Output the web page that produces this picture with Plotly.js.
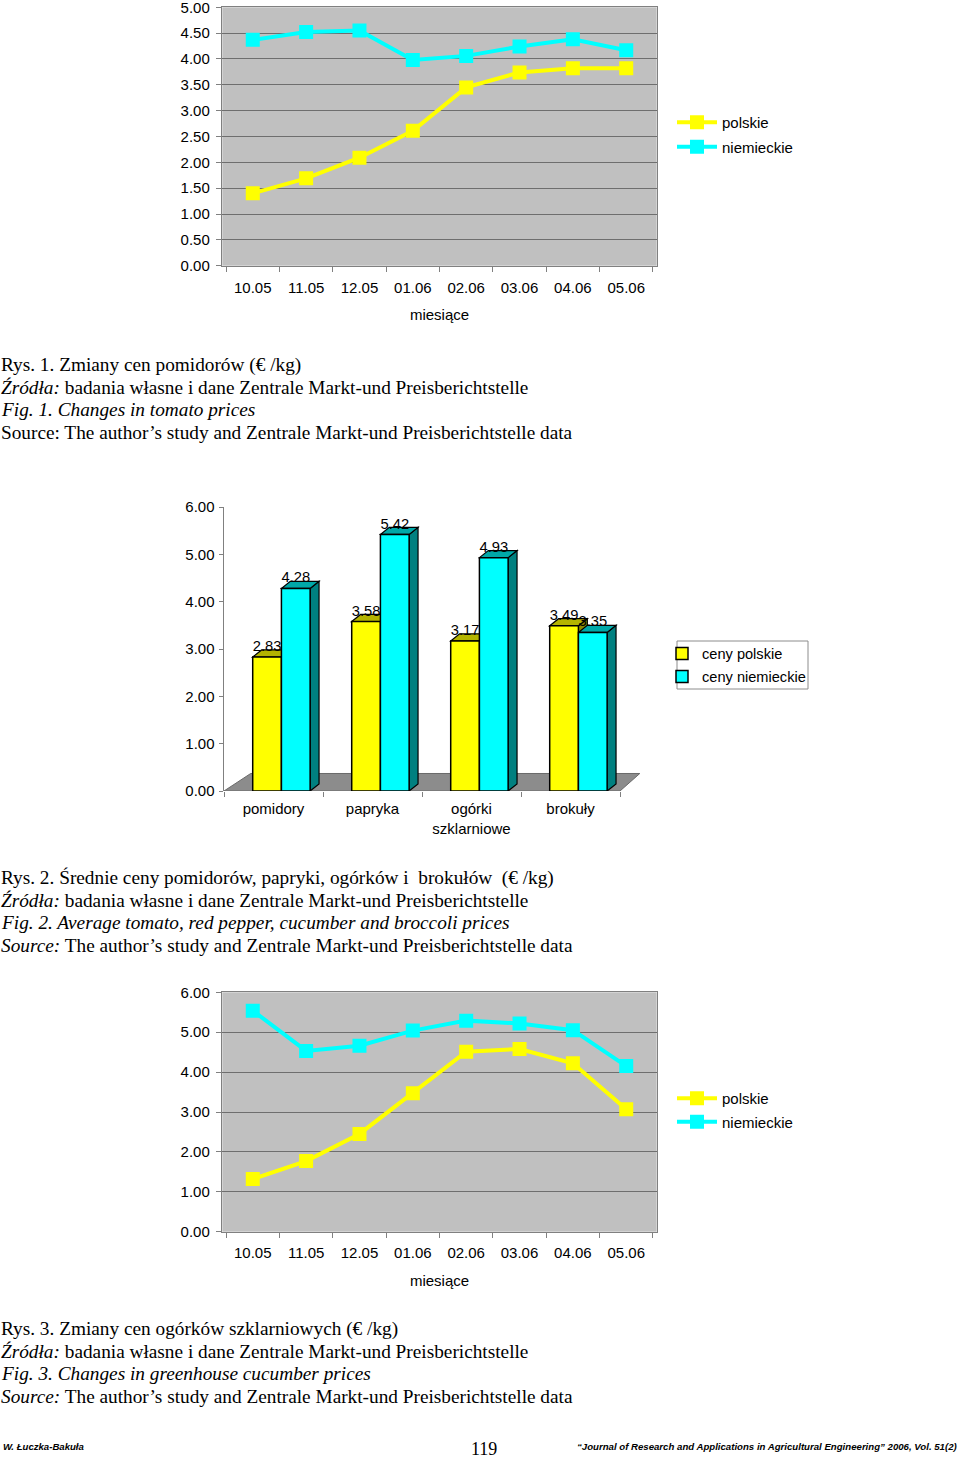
<!DOCTYPE html>
<html>
<head>
<meta charset="utf-8">
<script src="https://cdn.plot.ly/plotly-3.0.1.min.js"></script>
<style>html,body{margin:0;padding:0;background:#fff;}#chart{width:960px;height:1459px;}</style>
</head>
<body>
<div id="chart"></div>
<script>
// ---- data ----
const months = ['10.05','11.05','12.05','01.06','02.06','03.06','04.06','05.06'];
const tomatoPL = [1.40,1.69,2.09,2.61,3.45,3.74,3.82,3.82];
const tomatoDE = [4.37,4.52,4.55,3.98,4.06,4.24,4.38,4.17];
const vegCats = ['pomidory','papryka','ogórki<br>szklarniowe','brokuły'];
const avgPL = [2.83,3.58,3.17,3.49];
const avgDE = [4.28,5.42,4.93,3.35];
const cucPL = [1.32,1.77,2.45,3.47,4.51,4.58,4.22,3.07];
const cucDE = [5.54,4.53,4.66,5.04,5.29,5.22,5.05,4.15];
const seriesLine = ['polskie','niemieckie'];
const seriesBar = ['ceny polskie','ceny niemieckie'];

// ---- style ----
const SANS = 'Arial, "Liberation Sans", sans-serif';
const SERIF = '"Times New Roman", "Liberation Serif", serif';
const YEL = '#ffff00', CYA = '#00ffff';
const H = 1459, W = 960;
function yp(px){ return 1 - px/H; }
function xp(px){ return px/W; }

const idx = vegCats.map((_,i)=>i);
const OFF_Y = -0.21, OFF_C = 0.08, BW = 0.29, DX = 0.09, DY = 0.15;

function lineTrace(x, y, name, color, xa, ya, leg, grp){
  return {type:'scatter', mode:'lines+markers', x:x, y:y, name:name,
    xaxis:xa, yaxis:ya, legend:leg, legendgroup:grp,
    line:{color:color, width:4}, marker:{symbol:'square', size:14, color:color}};
}

const data = [
  lineTrace(months, tomatoPL, seriesLine[0], YEL, 'x', 'y', 'legend', 'a1'),
  lineTrace(months, tomatoDE, seriesLine[1], CYA, 'x', 'y', 'legend', 'b1'),
  {type:'bar', x:idx, y:avgPL, name:seriesBar[0], xaxis:'x2', yaxis:'y2', legend:'legend2', legendgroup:'a2',
    offset:OFF_Y, width:BW, marker:{color:YEL, line:{color:'#000', width:1.5}},
    text:avgPL.map(v=>v.toFixed(2)), textposition:'outside', cliponaxis:false,
    textfont:{family:SANS, size:15, color:'#000'}},
  {type:'bar', x:idx, y:avgDE, name:seriesBar[1], xaxis:'x2', yaxis:'y2', legend:'legend2', legendgroup:'b2',
    offset:OFF_C, width:BW, marker:{color:CYA, line:{color:'#000', width:1.5}},
    text:avgDE.map(v=>v.toFixed(2)), textposition:'outside', cliponaxis:false,
    textfont:{family:SANS, size:15, color:'#000'}},
  lineTrace(months, cucPL, seriesLine[0], YEL, 'x3', 'y3', 'legend3', 'a3'),
  lineTrace(months, cucDE, seriesLine[1], CYA, 'x3', 'y3', 'legend3', 'b3')
];

// 3D faces for bar chart, computed from data values
function poly(pts){ return 'M' + pts.map(p=>p[0]+','+p[1]).join(' L') + ' Z'; }
const shapes = [];
shapes.push({type:'rect', xref:'x2 domain', yref:'y2 domain', x0:-0.01, x1:1.02, y0:-0.01, y1:1.02,
  fillcolor:'#fff', line:{width:0}, layer:'below'});
shapes.push({type:'path', xref:'x2', yref:'y2', layer:'below',
  path: poly([[-0.5,0],[-0.5+0.27,0.37],[idx.length-0.5+0.2,0.37],[idx.length-0.5,0]]),
  fillcolor:'#8c8c8c', line:{color:'#6a6a6a', width:1}});
idx.forEach(i=>{
  const a = avgPL[i], b = avgDE[i];
  const yl = i+OFF_Y, yr = i+OFF_Y+BW, cl = i+OFF_C, cr = i+OFF_C+BW;
  shapes.push({type:'path', xref:'x2', yref:'y2', layer:'below',
    path: poly([[yr,0],[yr+DX,DY],[yr+DX,a+DY],[yr,a]]), fillcolor:'#8a8a00', line:{color:'#000', width:1.2}});
  shapes.push({type:'path', xref:'x2', yref:'y2', layer:'below',
    path: poly([[yl,a],[yl+DX,a+DY],[yr+DX,a+DY],[yr,a]]), fillcolor:'#b4b400', line:{color:'#000', width:1.2}});
  shapes.push({type:'path', xref:'x2', yref:'y2', layer:'below',
    path: poly([[cr,0],[cr+DX,DY],[cr+DX,b+DY],[cr,b]]), fillcolor:'#008080', line:{color:'#000', width:1.2}});
  shapes.push({type:'path', xref:'x2', yref:'y2', layer:'below',
    path: poly([[cl,b],[cl+DX,b+DY],[cr+DX,b+DY],[cr,b]]), fillcolor:'#00a8a8', line:{color:'#000', width:1.2}});
});
// legend frame of chart 2
shapes.push({type:'rect', xref:'paper', yref:'paper', x0:xp(677), x1:xp(808), y0:yp(689), y1:yp(641),
  fillcolor:'rgba(0,0,0,0)', line:{color:'#8c8c8c', width:1}});

function catAxis(anchor, standoff, tstand){
  return {domain:[xp(222.3), xp(656.7)], anchor:anchor, type:'category',
    tickson:'boundaries', ticks:'outside', ticklen:5, tickcolor:'#808080', tickwidth:1,
    showline:true, linecolor:'#808080', linewidth:1.5, mirror:true,
    showgrid:false, zeroline:false, fixedrange:true,
    tickfont:{family:SANS, size:15, color:'#000'}, ticklabelstandoff:standoff,
    title:{text:'miesiące', font:{family:SANS, size:15, color:'#000'}, standoff:tstand}};
}
function valAxis(dom, range, dtick, anchor){
  return {domain:dom, range:range, dtick:dtick, tickformat:'.2f', anchor:anchor,
    ticks:'outside', ticklen:5, tickcolor:'#808080', ticklabeloverflow:'allow',
    showline:true, linecolor:'#808080', linewidth:1.5, mirror:true,
    showgrid:true, gridcolor:'#6e6e6e', gridwidth:1, zeroline:false, fixedrange:true,
    tickfont:{family:SANS, size:15, color:'#000'}, ticklabelstandoff:3};
}

const caption = (lines, top) => lines.map((t,k)=>({
  xref:'paper', yref:'paper', x:xp(-1.5), y:yp(top + k*22.4), xanchor:'left', yanchor:'middle',
  showarrow:false, text:t, align:'left', font:{family:SERIF, size:19.3, color:'#000'}}));

const annotations = [].concat(
  caption(['Rys. 1. Zmiany cen pomidorów (€ /kg)',
    '<i>Źródła:</i> badania własne i dane Zentrale Markt-und Preisberichtstelle',
    '<i>Fig. 1. Changes in tomato prices</i>',
    'Source: The author’s study and Zentrale Markt-und Preisberichtstelle data'], 365),
  caption(['Rys. 2. Średnie ceny pomidorów, papryki, ogórków i  brokułów  (€ /kg)',
    '<i>Źródła:</i> badania własne i dane Zentrale Markt-und Preisberichtstelle',
    '<i>Fig. 2. Average tomato, red pepper, cucumber and broccoli prices</i>',
    '<i>Source:</i> The author’s study and Zentrale Markt-und Preisberichtstelle data'], 878),
  caption(['Rys. 3. Zmiany cen ogórków szklarniowych (€ /kg)',
    '<i>Źródła:</i> badania własne i dane Zentrale Markt-und Preisberichtstelle',
    '<i>Fig. 3. Changes in greenhouse cucumber prices</i>',
    '<i>Source:</i> The author’s study and Zentrale Markt-und Preisberichtstelle data'], 1329),
  [
    {xref:'paper', yref:'paper', x:xp(1), y:yp(1446), xanchor:'left', yanchor:'middle', showarrow:false,
      text:'<b><i>W. Łuczka-Bakuła</i></b>', font:{family:SANS, size:9.6, color:'#000'}},
    {xref:'paper', yref:'paper', x:xp(484), y:yp(1449), xanchor:'center', yanchor:'middle', showarrow:false,
      text:'119', font:{family:SERIF, size:18, color:'#000'}},
    {xref:'paper', yref:'paper', x:xp(959), y:yp(1446), xanchor:'right', yanchor:'middle', showarrow:false,
      text:'<b><i>“Journal of Research and Applications in Agricultural Engineering” 2006, Vol. 51(2)</i></b>',
      font:{family:SANS, size:9.65, color:'#000'}}
  ]
);

const legFont = {family:SANS, size:15, color:'#000'};
const layout = {
  width:W, height:H, margin:{l:0, r:0, t:0, b:0},
  paper_bgcolor:'#fff', plot_bgcolor:'#c0c0c0', showlegend:true, barmode:'overlay',
  xaxis: catAxis('y', 8, 14),
  yaxis: valAxis([yp(265.7), yp(7.3)], [0,5], 0.5, 'x'),
  xaxis2: {domain:[xp(224), xp(224 + 4.22*99)], anchor:'y2', range:[-0.5, 3.72],
    tickmode:'array', tickvals:idx, ticktext:vegCats, ticks:'', showline:false,
    showgrid:false, zeroline:false, fixedrange:true,
    minor:{tickvals: idx.concat([idx.length]).map(i=>i-0.5), ticks:'outside', ticklen:5, tickcolor:'#808080', showgrid:false},
    tickfont:{family:SANS, size:15, color:'#000'}, ticklabelstandoff:7},
  yaxis2: {domain:[yp(791), yp(507)], range:[0,6], dtick:1, tickformat:'.2f', anchor:'x2',
    ticks:'outside', ticklen:4, tickcolor:'#808080', showline:true, linecolor:'#808080', linewidth:1.5,
    showgrid:false, zeroline:false, fixedrange:true, ticklabeloverflow:'allow',
    tickfont:{family:SANS, size:15, color:'#000'}, ticklabelstandoff:1},
  xaxis3: catAxis('y3', 7, 15),
  yaxis3: valAxis([yp(1231.7), yp(992.3)], [0,6], 1, 'x3'),
  legend: {x:xp(672), y:yp(106), xanchor:'left', yanchor:'top', font:legFont, bgcolor:'rgba(0,0,0,0)', borderwidth:0, itemwidth:40, traceorder:'grouped', tracegroupgap:2},
  legend2: {x:xp(662), y:yp(637.5), xanchor:'left', yanchor:'top', font:{family:SANS, size:14.6, color:'#000'}, bgcolor:'rgba(0,0,0,0)', borderwidth:0, traceorder:'grouped', tracegroupgap:1},
  legend3: {x:xp(672), y:yp(1082), xanchor:'left', yanchor:'top', font:legFont, bgcolor:'rgba(0,0,0,0)', borderwidth:0, itemwidth:40, traceorder:'grouped', tracegroupgap:1},
  shapes: shapes,
  annotations: annotations
};

Plotly.newPlot('chart', data, layout, {displayModeBar:false, staticPlot:true});
</script>
</body>
</html>
